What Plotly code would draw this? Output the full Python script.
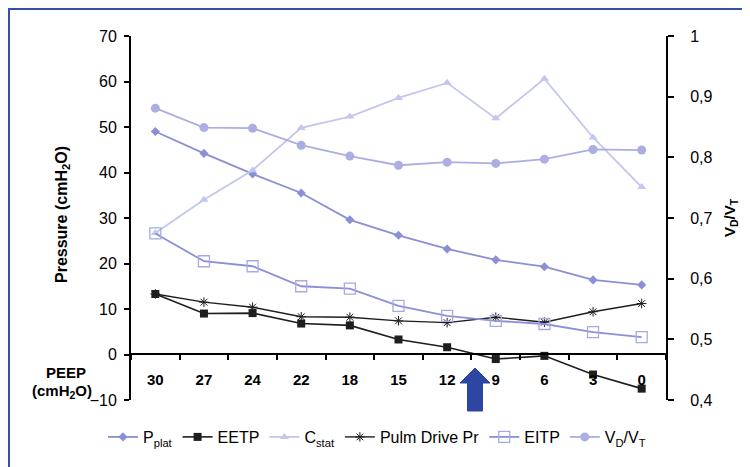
import plotly.graph_objects as go

peep = ["30", "27", "24", "22", "18", "15", "12", "9", "6", "3", "0"]
pplat = [49.0, 44.2, 39.7, 35.5, 29.6, 26.2, 23.2, 20.8, 19.3, 16.4, 15.3]
eetp = [13.3, 9.0, 9.1, 6.8, 6.4, 3.3, 1.6, -1.0, -0.3, -4.4, -7.5]
cstat = [26.7, 34.0, 40.5, 49.8, 52.3, 56.4, 59.7, 51.9, 60.6, 47.7, 36.8]
pulm_drive = [13.3, 11.5, 10.4, 8.3, 8.2, 7.4, 7.0, 8.2, 7.1, 9.4, 11.2]
eitp = [26.6, 20.5, 19.4, 15.0, 14.5, 10.7, 8.5, 7.4, 6.7, 4.9, 3.8]
vd_vt = [0.881, 0.849, 0.848, 0.820, 0.802, 0.787, 0.792, 0.790, 0.797, 0.813, 0.812]

FONT = "Liberation Sans, Arial, sans-serif"
C_PPLAT = "#8a8fd6"
C_CSTAT = "#c3c6ee"
C_EITP = "#8a90d8"
C_EITP_M = "#a6aae2"
C_VDVT = "#aaaee2"
C_BLACK = "#1e1e1e"

fig = go.Figure()
fig.add_trace(go.Scatter(x=peep, y=pplat, name="P<sub>plat</sub>", mode="lines+markers",
                         line=dict(color=C_PPLAT, width=1.8),
                         marker=dict(symbol="diamond", size=7, color=C_PPLAT)))
fig.add_trace(go.Scatter(x=peep, y=eetp, name="EETP", mode="lines+markers",
                         line=dict(color=C_BLACK, width=1.6),
                         marker=dict(symbol="square", size=8, color=C_BLACK)))
fig.add_trace(go.Scatter(x=peep, y=cstat, name="C<sub>stat</sub>", mode="lines+markers",
                         line=dict(color=C_CSTAT, width=1.8),
                         marker=dict(symbol="triangle-up", size=8, color=C_CSTAT)))
fig.add_trace(go.Scatter(x=peep, y=pulm_drive, name="Pulm Drive Pr", mode="lines+markers",
                         line=dict(color=C_BLACK, width=1.4),
                         marker=dict(symbol="asterisk-open", size=8, color=C_BLACK,
                                     line=dict(color=C_BLACK, width=1))))
fig.add_trace(go.Scatter(x=peep, y=eitp, name="EITP", mode="lines+markers",
                         line=dict(color=C_EITP, width=1.8),
                         marker=dict(symbol="square-open", size=11, color=C_EITP_M,
                                     line=dict(color=C_EITP_M, width=1.3))))
fig.add_trace(go.Scatter(x=peep, y=vd_vt, name="V<sub>D</sub>/V<sub>T</sub>", mode="lines+markers",
                         yaxis="y2",
                         line=dict(color=C_VDVT, width=1.8),
                         marker=dict(symbol="circle", size=9, color=C_VDVT)))

# the page draws the figure 8px in from the top-left corner
OFF = 8
W, H = 750, 467
L, T = 131 - OFF, 36 - OFF
R, B = W - (666 - OFF), H - (400 - OFF)
pw, ph = W - L - R, H - T - B


def px(xs):
    return (xs - OFF - L) / pw


def py(ys):
    return (H - B - (ys - OFF)) / ph


zero_pos = py(354.3)

fig.update_layout(
    width=W, height=H,
    margin=dict(l=L, r=R, t=T, b=B),
    paper_bgcolor="white", plot_bgcolor="white",
    font=dict(family=FONT, size=16, color="black"),
    separators=",.",
    showlegend=True,
    legend=dict(orientation="h", x=px(103), y=py(437), xanchor="left", yanchor="middle",
                font=dict(family=FONT, size=16, color="black"), bgcolor="rgba(0,0,0,0)",
                itemwidth=30, traceorder="normal"),
    xaxis=dict(type="category", range=[-0.5, 10.5], anchor="free", position=zero_pos,
               showline=True, linecolor="black", linewidth=2, showgrid=False, zeroline=False,
               ticks="outside", ticklen=5, tickwidth=1.5, tickcolor="black", tickson="boundaries",
               tickfont=dict(family=FONT, size=15, color="black", weight="bold"),
               ticklabelstandoff=12),
    yaxis=dict(range=[-10, 70], dtick=10, showline=True, linecolor="black", linewidth=2,
               showgrid=False, zeroline=False, ticks="outside", ticklen=5, tickwidth=1.5,
               tickcolor="black", tickfont=dict(family=FONT, size=16, color="black"),
               ticklabelstandoff=4),
    yaxis2=dict(range=[0.4, 1.0], dtick=0.1, overlaying="y", side="right", anchor="x",
                showline=True, linecolor="black", linewidth=2, showgrid=False, zeroline=False,
                ticks="outside", ticklen=6, tickwidth=1.5, tickcolor="black",
                tickfont=dict(family=FONT, size=16, color="black"), ticklabelstandoff=13),
)

bold = dict(family=FONT, size=15, color="black", weight="bold")
ann = dict(xref="paper", yref="paper", showarrow=False, xanchor="center", yanchor="middle")
fig.add_annotation(text="Pressure (cmH<sub>2</sub>O)", x=px(62), y=py(215), textangle=-90,
                   font=dict(family=FONT, size=16, color="black", weight="bold"), **ann)
fig.add_annotation(text="V<sub>D</sub>/V<sub>T</sub>", x=px(730), y=py(218), textangle=-90,
                   font=bold, **ann)
fig.add_annotation(text="PEEP", x=px(66), y=py(372), font=bold, **ann)
fig.add_annotation(text="(cmH<sub>2</sub>O)", x=px(62), y=py(391), font=bold, **ann)

# blue arrow
ax = px(475)
hw = 15 / pw
sw = 7.5 / pw
tip, base, bot = py(368), py(383), py(411)
path = (f"M {ax} {tip} L {ax + hw} {base} L {ax + sw} {base} L {ax + sw} {bot} "
        f"L {ax - sw} {bot} L {ax - sw} {base} L {ax - hw} {base} Z")
fig.add_shape(type="path", path=path, xref="paper", yref="paper",
              fillcolor="#2d46a3", line=dict(color="#2d46a3", width=1))

# outer frame
fig.add_shape(type="rect", xref="paper", yref="paper",
              x0=px(9), y0=py(9), x1=px(800), y1=py(520),
              line=dict(color="#3550a8", width=2), fillcolor="rgba(0,0,0,0)")

fig.write_html("out.html")
